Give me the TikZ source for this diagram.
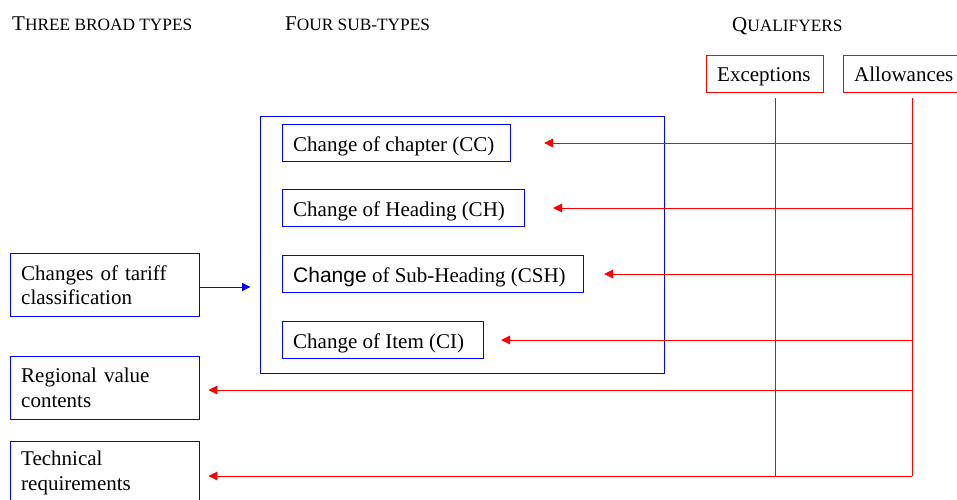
\documentclass[tikz,border=0pt]{standalone}
\usepackage{fontspec}
\setmainfont{Liberation Serif}
\setsansfont{Liberation Sans}
\usetikzlibrary{arrows.meta,calc}
\definecolor{myblue}{RGB}{0,0,255}
\definecolor{myred}{RGB}{255,0,0}
\tikzset{
  txt/.style={font=\fontsize{21}{24.5}\selectfont},
  bluebox/.style={draw=myblue, line width=1pt, inner sep=0pt, rectangle, txt},
  redbox/.style={draw=myred, line width=1pt, inner sep=0pt, rectangle, txt, text depth=10.3pt, text height=26.4pt},
  subbox/.style={bluebox, anchor=north west, text depth=10pt},
  lbox/.style={bluebox, anchor=north west, align=left, text width=167.9pt, inner xsep=10.7pt, inner ysep=0pt},
  redline/.style={draw=myred, line width=1pt},
  redarrow/.style={myred, line width=1pt, -{Triangle[length=9pt,width=8.5pt]}},
  bluearrow/.style={myblue, line width=1pt, -{Triangle[length=8.5pt,width=8pt]}},
  hdr/.style={anchor=base west, inner sep=0pt},
}
\newcommand\bigsc[1]{{\fontsize{21}{25}\selectfont #1}}
\newcommand\smsc[1]{{\fontsize{17.3}{20}\selectfont #1}}
\newcommand\boxtxt[2]{\makebox[#1][l]{\hspace*{10.7pt}#2}}
\begin{document}
\begin{tikzpicture}[x=1pt,y=-1pt]
\useasboundingbox (0,0) rectangle (957,499);
\fill[white] (0,0) rectangle (957,499);
% headers
\node[hdr] (h1) at (12,30) {\bigsc{T}\smsc{HREE BROAD TYPES}};
\node[hdr] (h2) at (285,30) {\bigsc{F}\smsc{OUR SUB-TYPES}};
\node[hdr] (h3) at (732,31) {\bigsc{Q}\smsc{UALIFYERS}};
% qualifier boxes
\node[redbox, anchor=north west] (exc) at (706,55) {\boxtxt{117pt}{Exceptions}};
\node[redbox, anchor=north west] (allow) at (843,55) {\boxtxt{130pt}{Allowances}};
% sub-types container
\node[bluebox, anchor=north west, minimum width=404pt, minimum height=257pt] (subtypes) at (259.5,115.5) {};
\node[subbox, text height=27pt] (cc) at (282,124) {\boxtxt{228pt}{Change of chapter (CC)}};
\node[subbox, text height=27pt] (ch) at (282,189) {\boxtxt{242pt}{Change of Heading (CH)}};
\node[subbox, text height=27pt] (csh) at (282,255) {\boxtxt{301pt}{{\sffamily Change} of Sub-Heading (CSH)}};
\node[subbox, text height=27pt] (ci) at (282,321) {\boxtxt{201pt}{Change of Item (CI)}};
% three broad types
\node[lbox, minimum height=63pt] (ctc) at (10,253) {Changes of tariff\\classification};
\node[lbox, minimum height=63pt] (rvc) at (10,356) {Regional value\\contents};
\node[lbox, minimum height=63pt] (tr) at (10,441) {Technical\\requirements};
% qualifier lines
\coordinate (extop) at (775,98);
\coordinate (exbot) at (775,476);
\coordinate (altop) at (912,98);
\coordinate (albot) at (912,476);
\draw[redline] (extop) -- (exbot);
\draw[redline] (altop) -- (albot);
% arrows
\draw[redarrow] (altop |- cc.east) -- ($(cc.east)+(33,0)$);
\draw[redarrow] (altop |- ch.east) -- ($(ch.east)+(28,0)$);
\draw[redarrow] (altop |- csh.east) -- ($(csh.east)+(20,0)$);
\draw[redarrow] (altop |- ci.east) -- ($(ci.east)+(17,0)$);
\coordinate (rvcrow) at (0,390);
\draw[redarrow] (altop |- rvcrow) -- ($(rvc.east |- rvcrow)+(8,0)$);
\draw[redarrow] (albot) -- ($(tr.east |- albot)+(8,0)$);
\coordinate (ctcrow) at (0,287);
\draw[bluearrow] (ctc.east |- ctcrow) -- ($(subtypes.west |- ctcrow)+(-9,0)$);
\end{tikzpicture}
\end{document}
